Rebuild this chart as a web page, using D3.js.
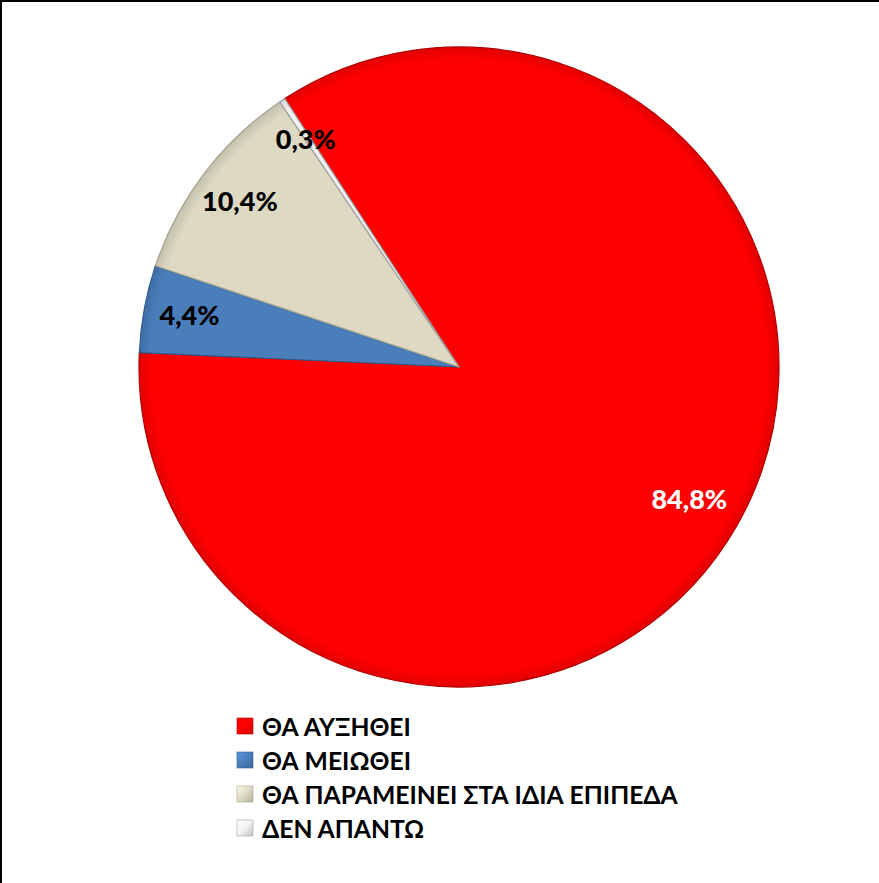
<!DOCTYPE html>
<html><head><meta charset="utf-8">
<script src="https://cdn.jsdelivr.net/npm/d3@7/dist/d3.min.js"></script>
<style>html,body{margin:0;padding:0;background:#fff;}svg{display:block;}</style>
</head><body>
<svg id="chart" width="879" height="883"></svg>
<script>
const categories = ["ΘΑ ΑΥΞΗΘΕΙ", "ΘΑ ΜΕΙΩΘΕΙ", "ΘΑ ΠΑΡΑΜΕΙΝΕΙ ΣΤΑ ΙΔΙΑ ΕΠΙΠΕΔΑ", "ΔΕΝ ΑΠΑΝΤΩ"];
const values = [84.8, 4.4, 10.4, 0.3];
const valueLabels = ["84,8%", "4,4%", "10,4%", "0,3%"];
const colors = ["#FF0000", "#4A7EBB", "#DDD9C3", "#F2F2F2"];
const strokeColors = ["#B00000", "#2E5A8C", "#A8A48C", "#A0A0A0"];
const labelColors = ["#FFFFFF", "#000000", "#000000", "#000000"];

const svg = d3.select("#chart");
const W = 879, H = 883;
const cx = 459, cy = 367, R = 320;

svg.append("line").attr("x1",0).attr("y1",1).attr("x2",W).attr("y2",1).attr("stroke","#000").attr("stroke-width",2);
svg.append("line").attr("x1",1).attr("y1",0).attr("x2",1).attr("y2",H).attr("stroke","#000").attr("stroke-width",2);

const defs = svg.append("defs");
colors.forEach((c,i)=>{
  const g = defs.append("radialGradient").attr("id","g"+i)
    .attr("gradientUnits","userSpaceOnUse").attr("cx",0).attr("cy",0).attr("r",R);
  const col = d3.color(c);
  g.append("stop").attr("offset","0%").attr("stop-color", col.formatHex());
  g.append("stop").attr("offset","96%").attr("stop-color", col.formatHex());
  g.append("stop").attr("offset","100%").attr("stop-color", d3.color(c).darker(0.35).formatHex());
  const lg = defs.append("linearGradient").attr("id","lg"+i).attr("x1","0").attr("y1","0").attr("x2","1").attr("y2","1");
  lg.append("stop").attr("offset","0%").attr("stop-color", d3.color(c).brighter(0.5).formatHex());
  lg.append("stop").attr("offset","50%").attr("stop-color", col.formatHex());
  lg.append("stop").attr("offset","100%").attr("stop-color", d3.color(c).darker(0.6).formatHex());
});

const startA = -33 * Math.PI / 180;
const pie = d3.pie().sort(null).value(d=>d).startAngle(startA).endAngle(startA + 2*Math.PI);
const arcs = pie(values);
const arc = d3.arc().innerRadius(0).outerRadius(R);
const labelArc = d3.arc().innerRadius(270).outerRadius(270);

const g = svg.append("g").attr("transform",`translate(${cx},${cy})`);
g.selectAll("path.slice").data(arcs).enter().append("path")
  .attr("class","slice")
  .attr("d", arc)
  .attr("fill",(d,i)=>"url(#g"+i+")")
  .attr("stroke",(d,i)=>strokeColors[i])
  .attr("stroke-width",1.2)
  .attr("stroke-linejoin","round");

g.selectAll("text.lbl").data(arcs).enter().append("text")
  .attr("class","lbl")
  .attr("x", d=>labelArc.centroid(d)[0] - 4)
  .attr("y", d=>labelArc.centroid(d)[1] - 3)
  .attr("text-anchor","middle")
  .attr("dominant-baseline","central")
  .attr("font-family","Lato, 'Open Sans', sans-serif")
  .attr("font-weight","900")
  .attr("font-size",27)
  .attr("fill",(d,i)=>labelColors[i])
  .text((d,i)=>valueLabels[i]);

const lx = 237, ly0 = 726, dy = 34;
const leg = svg.append("g");
categories.forEach((c,i)=>{
  const y = ly0 + i*dy;
  leg.append("rect").attr("x",lx).attr("y",y-8).attr("width",16).attr("height",16)
    .attr("fill","url(#lg"+i+")").attr("stroke", strokeColors[i]).attr("stroke-width",0.6);
  leg.append("text").attr("x",262).attr("y",y).attr("dominant-baseline","central")
    .attr("font-family","Lato, 'Open Sans', sans-serif").attr("font-weight","bold")
    .attr("font-size",24.7).attr("fill","#000").text(c);
});
</script>
</body></html>
